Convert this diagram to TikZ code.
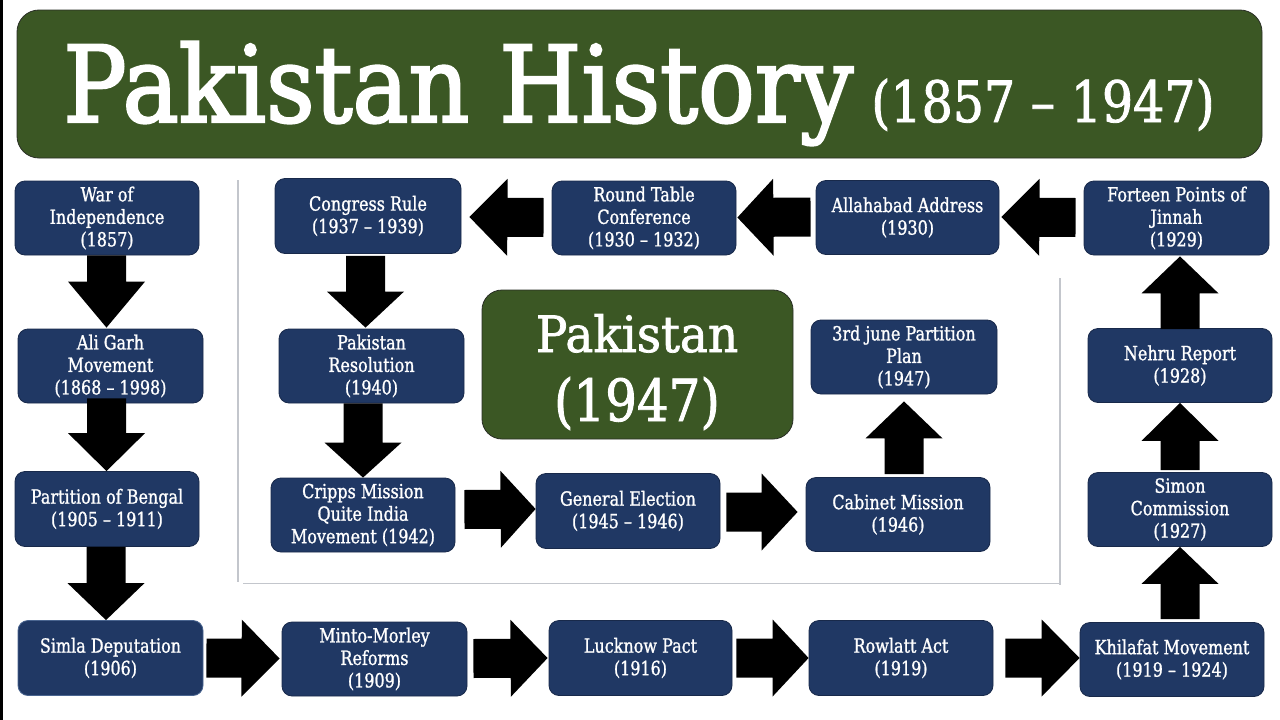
\documentclass[tikz,border=0pt]{standalone}
\usepackage{fontspec}
\setmainfont{DejaVu Serif}[FakeStretch=0.82,FakeBold=1.1]
\newfontfamily\titlefont{DejaVu Serif}[FakeStretch=0.89,FakeBold=2.2]
\newfontfamily\titlefontB{DejaVu Serif}[FakeStretch=0.86,FakeBold=1.5]
\newfontfamily\pakfontA{DejaVu Serif}[FakeStretch=0.94,FakeBold=1.5]
\newfontfamily\pakfontB{DejaVu Serif}[FakeStretch=0.86,FakeBold=1.5]
\usetikzlibrary{calc}
\definecolor{navy}{HTML}{203864}
\definecolor{navyline}{HTML}{18294A}
\definecolor{simlaline}{HTML}{4A6590}
\definecolor{olive}{HTML}{3B5724}
\definecolor{oliveline}{HTML}{2A2F26}
\definecolor{framegray}{HTML}{C3C6CC}
\tikzset{
  evbox/.style={draw=navyline, line width=0.8pt, fill=navy, rounded corners=10pt,
    text=white, align=center, inner sep=0pt,
    font=\fontsize{19.5}{22.5}\selectfont},
  sz/.style 2 args={minimum width=#1pt, minimum height=#2pt},
  arrowfill/.style={fill=black},
  frameline/.style={draw=framegray, line width=1.1pt},
  greenbox/.style={draw=oliveline, line width=0.8pt, fill=olive, inner sep=0pt}
}
\newcommand\blk[3]{%
  \coordinate (bkS) at (#1);
  \coordinate (bkT) at (#2);
  \coordinate (bkH) at ($(bkT)!#3pt!(bkS)$);
  \fill[arrowfill] ($(bkS)!19.5pt!90:(bkT)$) -- ($(bkH)!19.5pt!-90:(bkS)$)
    -- ($(bkH)!38.5pt!-90:(bkS)$) -- (bkT) -- ($(bkH)!38.5pt!90:(bkS)$)
    -- ($(bkH)!19.5pt!90:(bkS)$) -- ($(bkS)!19.5pt!-90:(bkT)$) -- cycle;}
\begin{document}
\begin{tikzpicture}[x=1pt,y=-1pt]
\useasboundingbox (0,0) rectangle (1280,720);
\fill[white] (0,0) rectangle (1280,720);
\fill[black] (0,0) rectangle (3,720);

% frame lines
\draw[frameline] (238,180) -- (238,582);
\draw[frameline] (243,583.5) -- (1060,583.5);
\draw[frameline] (1060,278) -- (1060,585);

% title
\node[greenbox, rounded corners=22pt, minimum width=1245pt, minimum height=148pt] (title) at (639.5,84) {};
\node[anchor=base, text=white, inner sep=0pt] (titletext) at (639,122)
  {\titlefont\fontsize{106}{120}\selectfont Pakistan History\hspace{0.17em}\titlefontB\fontsize{57}{60}\selectfont (1857 – 1947)};

% centre box
\node[greenbox, rounded corners=20pt, minimum width=311pt, minimum height=149pt] (pak) at (637.5,364.5) {};
\node[anchor=base, text=white, inner sep=0pt] (paktext) at (637,352)
  {\pakfontA\fontsize{50}{60}\selectfont Pakistan};
\node[anchor=base, text=white, inner sep=0pt] (pakyear) at (637,421)
  {\pakfontB\fontsize{58}{60}\selectfont (1947)};

% event boxes
\node[evbox, sz={184}{74}] (war) at (107,218) {War of\\Independence\\(1857)};
\node[evbox, sz={185}{74}] (ali) at (110.5,366) {Ali Garh\\Movement\\(1868 – 1998)};
\node[evbox, sz={184}{75}] (bengal) at (107,509) {Partition of Bengal\\(1905 – 1911)};
\node[evbox, sz={185}{75}, draw=simlaline] (simla) at (110.5,658) {Simla Deputation\\(1906)};
\node[evbox, sz={185}{74}] (minto) at (374.5,659) {Minto-Morley\\Reforms\\(1909)};
\node[evbox, sz={183}{75}] (lucknow) at (640.5,658) {Lucknow Pact\\(1916)};
\node[evbox, sz={184}{75}] (rowlatt) at (901,658) {Rowlatt Act\\(1919)};
\node[evbox, sz={184}{74}] (khilafat) at (1172,659.5) {Khilafat Movement\\(1919 – 1924)};
\node[evbox, sz={184}{74}] (simon) at (1180,509.5) {Simon\\Commission\\(1927)};
\node[evbox, sz={184}{74}] (nehru) at (1180,365.5) {Nehru Report\\(1928)};
\node[evbox, sz={185}{74}] (forteen) at (1176.5,218) {Forteen Points of\\Jinnah\\(1929)};
\node[evbox, sz={183}{74}] (allahabad) at (907.5,217.5) {Allahabad Address\\(1930)};
\node[evbox, sz={184}{74}] (roundtable) at (644,218) {Round Table\\Conference\\(1930 – 1932)};
\node[evbox, sz={186}{75}] (congress) at (368,216) {Congress Rule\\(1937 – 1939)};
\node[evbox, sz={185}{74}] (pakres) at (371.5,366) {Pakistan\\Resolution\\(1940)};
\node[evbox, sz={184}{74}] (cripps) at (363,515) {Cripps Mission\\Quite India\\Movement (1942)};
\node[evbox, sz={184}{75}] (general) at (628,511) {General Election\\(1945 – 1946)};
\node[evbox, sz={184}{74}] (cabinet) at (898,514.5) {Cabinet Mission\\(1946)};
\node[evbox, sz={186}{74}] (june) at (904,357) {3rd june Partition\\Plan\\(1947)};

% block arrows
\blk{$(war.south)+(-0.5,0)$}{$(ali.north)+(-4,-1)$}{46}
\blk{$(ali.south)+(-4,-5)$}{$(bengal.north)+(-0.5,0)$}{38}
\blk{$(bengal.south)+(-1,0)$}{$(simla.north)+(-4.5,0)$}{37}
\blk{$(congress.south)+(-2.5,2)$}{$(pakres.north)+(-6,-1)$}{36}
\blk{$(pakres.south)+(-8.5,0)$}{$(cripps.north)+(0,0)$}{35}
\blk{$(khilafat.north)+(8,-3)$}{$(simon.south)+(0,0)$}{37}
\blk{$(simon.north)+(0,-2)$}{$(nehru.south)+(0,0)$}{38}
\blk{$(nehru.north)+(0,1)$}{$(forteen.south)+(3.5,1)$}{37}
\blk{$(cabinet.north)+(6,-3)$}{$(june.south)+(0,7)$}{37}
\blk{$(simla.east)+(3,0)$}{$(minto.west)+(-2,-0.5)$}{38}
\blk{$(minto.east)+(6,-0.5)$}{$(lucknow.west)+(-1,0)$}{37}
\blk{$(lucknow.east)+(4,0)$}{$(rowlatt.west)+(0,0)$}{36}
\blk{$(rowlatt.east)+(12,0)$}{$(khilafat.west)+(0,-1.5)$}{38}
\blk{$(cripps.east)+(9,-5.5)$}{$(general.west)+(0,-2)$}{35}
\blk{$(general.east)+(6,1)$}{$(cabinet.west)+(-8,-2.5)$}{36}
\blk{$(forteen.west)+(-8,-0.5)$}{$(allahabad.east)+(2,-0.5)$}{38}
\blk{$(allahabad.west)+(-5,-0.5)$}{$(roundtable.east)+(1,-0.5)$}{36}
\blk{$(roundtable.west)+(-8,-0.5)$}{$(congress.east)+(8,1)$}{38}
\end{tikzpicture}
\end{document}
